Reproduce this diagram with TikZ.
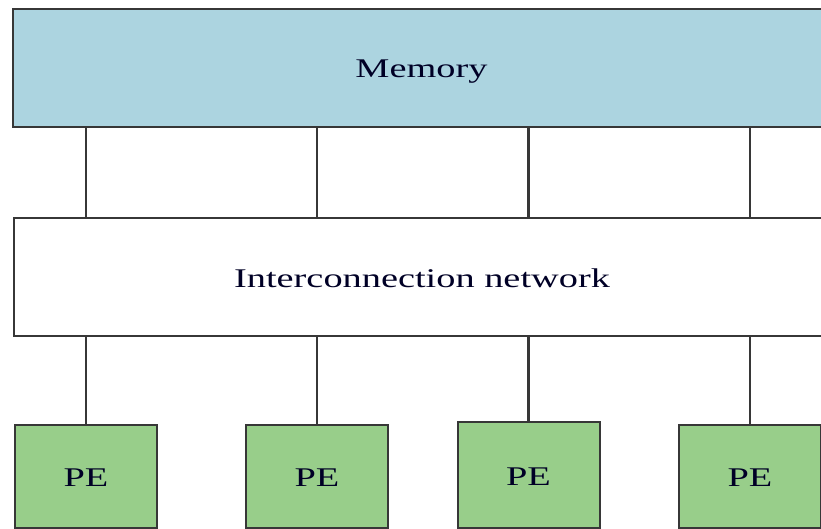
\documentclass[tikz,border=0pt]{standalone}
\usepackage{fontspec}
\usepackage{tikz}
\usetikzlibrary{positioning}
\newfontfamily\boxfont[FakeStretch=1.42]{Liberation Serif}
\definecolor{memblue}{RGB}{172,212,224}
\definecolor{pegreen}{RGB}{152,206,138}
\definecolor{edgegray}{RGB}{55,55,55}

\begin{document}
\begin{tikzpicture}[x=1pt,y=1pt,
        box/.style={draw=edgegray,line width=2pt,font=\boxfont\fontsize{27}{32}\selectfont,text=black!85!blue,inner sep=0pt,text height=22pt,text depth=2pt},
        wide/.style={box,minimum width=817pt,minimum height=118pt},
        pebox/.style={box,fill=pegreen,minimum width=142pt,minimum height=103pt},
        link/.style={draw=edgegray,line width=2.2pt}]
        \useasboundingbox (0,0) rectangle (821,529);
        \clip (0,0) rectangle (821,529);

        \node[wide,fill=memblue] (mem) at (421.5,461) {Memory};
        \node[wide,fill=white] (net) at (422,251.5) {Interconnection network};
        \node[pebox] (pe1) at (86,52.5) {PE};
        \node[pebox] (pe2) at (317,52.5) {PE};
        \node[pebox,minimum height=106pt] (pe3) at (528.5,53.5) {PE};
        \node[pebox] (pe4) at (750,52.5) {PE};

        \foreach \p in {pe1,pe2,pe3,pe4} {
            \draw[link] (\p.north) -- (net.south -| \p.north);
            \draw[link] (net.north -| \p.north) -- (mem.south -| \p.north);
        }
    \end{tikzpicture}
\end{document}
